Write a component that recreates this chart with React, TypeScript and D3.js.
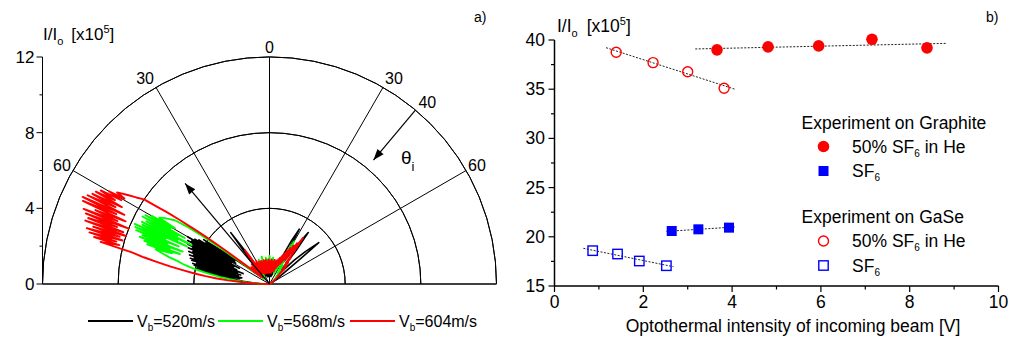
import React from "react";
import * as d3 from "d3";

const FONT = "'Liberation Sans', Arial, Helvetica, sans-serif";

// ---------- Panel a) polar data: [angle from normal (deg), I/Io x10^5] ----------
const black520: [number, number][] = [
  [-90, 0], [-88, 0.4], [-86, 0.9], [-84, 1.4], [-82, 2.0], [-81, 2.6], [-80, 3.2], [-79.5, 1.6],
  [-79, 3.7], [-78.5, 1.9], [-78, 4.0], [-77.5, 1.5], [-77, 3.9], [-76.5, 2.0], [-76, 4.1],
  [-75.5, 1.7], [-75, 4.2], [-74.5, 1.9], [-74, 4.0], [-73.5, 2.4], [-73, 4.3], [-72.5, 1.6],
  [-72, 4.4], [-71.5, 2.6], [-71, 4.2], [-70.5, 1.8], [-70, 4.5], [-69.5, 2.3], [-69, 4.3],
  [-68.5, 1.5], [-68, 4.6], [-67.5, 2.7], [-67, 4.4], [-66.5, 1.9], [-66, 4.7], [-65.5, 2.8],
  [-65, 4.5], [-64.5, 2.1], [-64, 4.8], [-63.5, 2.5], [-63, 4.6], [-62.5, 1.8], [-62, 4.9],
  [-61.5, 2.9], [-61, 4.7], [-60.5, 2.3], [-60, 5.0], [-59.5, 2.7], [-59, 4.6], [-58.5, 2.1],
  [-58, 4.4], [-57.5, 2.8], [-57, 4.0], [-56.5, 2.2], [-56, 4.2], [-55, 3.0], [-54, 2.0],
  [-53, 1.4], [-52, 0.9], [-50, 0.6], [-48, 0.8], [-46, 0.5], [-44, 1.0], [-42, 0.6], [-40, 1.2],
  [-38, 2.2], [-37, 3.4], [-36, 2.0], [-35, 1.0], [-33, 0.7], [-31, 1.1], [-29, 0.5], [-27, 0.9],
  [-25, 0.6], [-23, 0.8], [-21, 0.5], [-19, 0.7], [-17, 0.4], [-15, 0.6], [-13, 0.4], [-11, 0.7],
  [-9, 0.5], [-7, 0.6], [-5, 0.4], [-3, 0.7], [-1, 0.5], [1, 0.6], [3, 0.4], [5, 0.7], [7, 0.5],
  [9, 0.6], [11, 0.4], [13, 0.8], [15, 0.5], [17, 0.9], [19, 0.6], [21, 1.0], [23, 0.8],
  [25, 1.6], [27, 2.6], [28.5, 3.3], [29.5, 2.0], [31, 1.2], [33, 1.5], [35, 2.4], [37, 3.4],
  [38.5, 2.2], [40, 1.0], [42, 1.3], [44, 0.8], [46, 1.8], [48, 2.6], [50, 3.4], [51, 2.0],
  [53, 0.8], [56, 0.4], [60, 0.2], [70, 0.1], [90, 0],
];

const green568: [number, number][] = [
  [-90, 0], [-88, 0.5], [-86, 1.2], [-84, 1.8], [-82, 2.6], [-80, 3.4], [-79, 3.9], [-78, 4.3],
  [-77, 4.7], [-76, 5.0], [-75, 5.5], [-74, 5.9], [-73, 6.3], [-72.5, 5.4], [-72, 6.8],
  [-71.5, 5.0], [-71, 7.0], [-70.5, 5.6], [-70, 7.3], [-69.5, 4.9], [-69, 7.2], [-68.5, 5.8],
  [-68, 7.6], [-67.5, 5.2], [-67, 7.7], [-66.5, 6.0], [-66, 7.8], [-65.5, 4.8], [-65, 7.4],
  [-64.5, 5.4], [-64, 7.5], [-63.5, 4.6], [-63, 7.3], [-62.5, 5.5], [-62, 7.6], [-61.5, 5.1],
  [-61, 7.5], [-60.5, 6.0], [-60, 7.2], [-59.5, 5.8], [-59, 6.8], [-58, 6.6], [-57, 6.3],
  [-56, 6.0], [-55, 5.2], [-54.5, 4.5], [-54, 3.6], [-53.5, 2.8], [-53, 2.0], [-52, 1.2],
  [-50, 0.7], [-48, 0.4], [-46, 0.8], [-44, 0.5], [-42, 0.9], [-40, 0.4], [-38, 0.7], [-36, 1.0],
  [-34, 0.5], [-32, 0.8], [-30, 0.6], [-28, 1.0], [-26, 0.7], [-24, 1.4], [-22, 0.8], [-20, 1.2],
  [-18, 0.7], [-16, 1.5], [-14, 0.9], [-12, 1.2], [-10, 0.8], [-8, 1.4], [-6, 1.0], [-4, 1.3],
  [-2, 0.9], [0, 1.5], [2, 1.0], [4, 1.3], [6, 0.8], [8, 1.4], [10, 1.0], [12, 1.3], [14, 0.7],
  [16, 1.2], [18, 0.8], [20, 1.0], [22, 0.6], [24, 1.3], [26, 0.8], [28, 1.6], [30, 2.6],
  [31, 1.8], [33, 1.0], [35, 1.2], [37, 0.7], [40, 0.9], [43, 0.5], [46, 0.6], [50, 0.3],
  [55, 0.2], [60, 0.1], [75, 0], [90, 0],
];

const red604: [number, number][] = [
  [-90, 0], [-88, 0.6], [-87, 1.2], [-86, 1.5], [-85, 2.2], [-84, 2.8], [-83, 3.4], [-82, 4.0],
  [-81, 4.6], [-80, 5.3], [-79, 6.0], [-78, 6.8], [-77, 7.5], [-76.5, 8.3], [-76, 9.2],
  [-75.5, 8.2], [-75, 9.6], [-74.5, 8.4], [-74, 9.9], [-73.5, 8.1], [-73, 10.1], [-72.5, 8.3],
  [-72, 9.8], [-71.5, 8.0], [-71, 10.3], [-70.5, 8.2], [-70, 10.2], [-69.5, 8.6], [-69, 10.4],
  [-68.5, 8.0], [-68, 10.6], [-67.5, 8.7], [-67, 10.0], [-66.5, 8.3], [-66, 10.8], [-65.5, 8.9],
  [-65, 10.9], [-64.5, 8.5], [-64, 10.7], [-63.5, 9.1], [-63, 10.5], [-62.5, 8.8], [-62, 10.4],
  [-61.5, 9.3], [-61, 10.2], [-60.5, 9.0], [-60, 9.8], [-59.5, 8.9], [-59, 9.4], [-58, 8.9],
  [-57, 8.4], [-56, 8.0], [-55.5, 7.2], [-55, 6.6], [-54.5, 5.8], [-54, 5.0], [-53.5, 4.3],
  [-53, 3.4], [-52.5, 2.6], [-52, 1.9], [-51, 1.3], [-50, 0.6], [-49, 1.1], [-48, 0.7],
  [-47, 1.3], [-46, 0.5], [-45, 1.0], [-44, 1.2], [-43, 0.6], [-42, 1.4], [-41, 0.8], [-40, 1.3],
  [-39, 0.7], [-38, 1.1], [-37, 1.6], [-36, 2.2], [-35, 1.0], [-34, 1.3], [-33, 0.7], [-32, 1.2],
  [-31, 0.9], [-30, 1.4], [-29, 0.8], [-28, 1.2], [-27, 0.6], [-26, 1.1], [-25, 1.3], [-24, 0.8],
  [-23, 1.2], [-22, 0.7], [-21, 1.0], [-20, 1.3], [-19, 0.6], [-18, 1.1], [-17, 1.2], [-16, 0.7],
  [-15, 1.0], [-14, 1.3], [-13, 0.8], [-12, 1.1], [-11, 0.6], [-10, 1.2], [-9, 1.3], [-8, 0.7],
  [-7, 1.0], [-6, 1.2], [-5, 0.6], [-4, 1.1], [-3, 0.8], [-2, 1.3], [-1, 0.7], [0, 1.0],
  [1, 1.2], [2, 0.6], [3, 1.1], [4, 0.9], [5, 1.3], [6, 0.7], [7, 1.0], [8, 1.2], [9, 0.6],
  [10, 1.1], [11, 0.8], [12, 1.3], [13, 0.7], [14, 1.0], [15, 1.2], [16, 0.8], [17, 1.3],
  [18, 0.7], [19, 1.1], [20, 1.4], [21, 0.9], [22, 1.5], [23, 1.0], [24, 1.6], [25, 1.1],
  [26, 1.8], [27, 1.2], [28, 2.0], [29, 1.3], [30, 2.2], [31, 1.5], [32, 2.4], [33, 1.6],
  [34, 2.6], [35, 2.0], [36, 3.0], [37, 2.2], [38, 1.4], [39, 1.8], [40, 1.2], [41, 1.5],
  [42, 1.0], [43, 1.3], [44, 0.8], [45, 1.1], [46, 0.6], [48, 0.7], [50, 0.4], [52, 0.3],
  [55, 0.2], [60, 0.1], [70, 0.05], [80, 0], [90, 0],
];

const polarSeries = [
  { name: "520", data: black520, color: "#000000", width: 1.6 },
  { name: "568", data: green568, color: "#00ff00", width: 1.9 },
  { name: "604", data: red604, color: "#ff0000", width: 1.9 },
];

const polarCircles = [4, 8, 12];
const polarAxisTicks = [0, 4, 8, 12];
const polarMinorTicks = [2, 6, 10];
const spokeAngles = [-60, -30, 0, 30, 60];
const spokeLabels = ["60", "30", "0", "30", "60"];
const incidentAngle = 40;
const incidentLabel = "40";
const incidentTip = 8.55;
const reflectAngle = -40;
const reflectTip = 6.94;
const legendSpeeds = ["520m/s", "568m/s", "604m/s"];

// ---------- Panel b) data ----------
const graphiteMixX = [3.66, 4.81, 5.95, 7.15, 8.39];
const graphiteMixY = [39.0, 39.3, 39.4, 40.07, 39.2];
const graphiteSF6X = [2.64, 3.24, 3.93];
const graphiteSF6Y = [20.59, 20.76, 20.93];
const gaseMixX = [1.39, 2.22, 3.0, 3.82];
const gaseMixY = [38.75, 37.7, 36.78, 35.09];
const gaseSF6X = [0.86, 1.42, 1.91, 2.52];
const gaseSF6Y = [18.59, 18.25, 17.54, 17.06];
const fitGraphiteMix: [number, number][] = [[3.17, 39.09], [8.84, 39.66]];
const fitGraphiteSF6: [number, number][] = [[2.52, 20.55], [4.07, 21.0]];
const fitGaseMix: [number, number][] = [[1.16, 39.22], [4.07, 34.99]];
const fitGaseSF6: [number, number][] = [[0.65, 18.83], [2.68, 16.96]];
const xTicks = [0, 2, 4, 6, 8, 10];
const xMinor = [1, 3, 5, 7, 9];
const yTicks = [15, 20, 25, 30, 35, 40];
const yMinor = [17.5, 22.5, 27.5, 32.5, 37.5];

const zip = (xs: number[], ys: number[]) => xs.map((x, i) => [x, ys[i]] as [number, number]);

function arrowHead(tip: [number, number], from: [number, number], len = 11, half = 4) {
  const dx = tip[0] - from[0];
  const dy = tip[1] - from[1];
  const L = Math.hypot(dx, dy);
  const ux = dx / L, uy = dy / L;
  const bx = tip[0] - ux * len, by = tip[1] - uy * len;
  return `${tip[0]},${tip[1]} ${bx - uy * half},${by + ux * half} ${bx + uy * half},${by - ux * half}`;
}

function PolarPanel() {
  const cx = 269.5, cy = 284;
  const R = 227;
  const r = d3.scaleLinear().domain([0, 12]).range([0, R]);
  const yAxis = d3.scaleLinear().domain([0, 12]).range([cy, cy - R]);
  const axisX = cx - R;
  const pt = (deg: number, v: number): [number, number] => {
    const a = (deg * Math.PI) / 180;
    return [cx + r(v) * Math.sin(a), cy - r(v) * Math.cos(a)];
  };
  const arc = d3.arc<any>();
  const line = d3
    .lineRadial<[number, number]>()
    .angle((d) => (d[0] * Math.PI) / 180)
    .radius((d) => r(d[1]));

  const incFrom = pt(incidentAngle, 12);
  const incTo = pt(incidentAngle, incidentTip);
  const refFrom = pt(reflectAngle, 0);
  const refTo = pt(reflectAngle, reflectTip);

  const legendX = [88, 218, 350];

  return (
    <g fontFamily={FONT}>
      {polarCircles.map((c) => (
        <path
          key={c}
          transform={`translate(${cx},${cy})`}
          d={arc({ innerRadius: r(c), outerRadius: r(c), startAngle: -Math.PI / 2, endAngle: Math.PI / 2 }) || ""}
          fill="none"
          stroke="#000"
          strokeWidth={1}
        />
      ))}
      {spokeAngles.map((a) => {
        const p = pt(a, 12);
        return <line key={a} x1={cx} y1={cy} x2={p[0]} y2={p[1]} stroke="#000" strokeWidth={1} />;
      })}
      <line x1={axisX} y1={cy} x2={cx + R} y2={cy} stroke="#000" strokeWidth={1.5} />
      <line x1={axisX} y1={cy} x2={axisX} y2={cy - R} stroke="#000" strokeWidth={1} />
      {polarAxisTicks.map((t) => (
        <g key={t}>
          <line x1={axisX - 6} x2={axisX} y1={yAxis(t)} y2={yAxis(t)} stroke="#000" />
          <text x={axisX - 8} y={yAxis(t) + 6} fontSize={17} textAnchor="end">
            {t}
          </text>
        </g>
      ))}
      {polarMinorTicks.map((t) => (
        <line key={t} x1={axisX - 3} x2={axisX} y1={yAxis(t)} y2={yAxis(t)} stroke="#000" />
      ))}
      <text x={43} y={40} fontSize={17}>
        I/I<tspan dy={5} fontSize={11}>o</tspan>
        <tspan dy={-5} dx={8}>[x10</tspan>
        <tspan dy={-7} fontSize={11}>5</tspan>
        <tspan dy={7}>]</tspan>
      </text>
      <text x={474} y={22} fontSize={14}>a)</text>

      {polarSeries.map((s) => (
        <path
          key={s.name}
          transform={`translate(${cx},${cy})`}
          d={line(s.data) || ""}
          fill="none"
          stroke={s.color}
          strokeWidth={s.width}
          strokeLinejoin="round"
        />
      ))}

      {spokeAngles.map((a, i) => {
        const p = pt(a, 12);
        const anchor = a < 0 ? "end" : a > 0 ? "start" : "middle";
        const dx = a < 0 ? -2 : a > 0 ? 2 : 0;
        const dy = a === 0 ? -4 : a === 30 || a === -30 ? -3 : 0;
        return (
          <text key={a} x={p[0] + dx} y={p[1] + dy} fontSize={16} textAnchor={anchor}>
            {spokeLabels[i]}
          </text>
        );
      })}
      <line x1={incFrom[0]} y1={incFrom[1]} x2={incTo[0]} y2={incTo[1]} stroke="#000" strokeWidth={1.2} />
      <polygon points={arrowHead(incTo, incFrom)} fill="#000" />
      <text x={incFrom[0] + 3} y={incFrom[1] - 2} fontSize={16}>{incidentLabel}</text>
      <text x={401} y={164} fontSize={19}>
        θ<tspan dy={7} fontSize={13}>i</tspan>
      </text>
      <line x1={refFrom[0]} y1={refFrom[1]} x2={refTo[0]} y2={refTo[1]} stroke="#000" strokeWidth={1.2} />
      <polygon points={arrowHead(refTo, refFrom)} fill="#000" />

      {polarSeries.map((s, i) => (
        <g key={"lg" + s.name}>
          <line x1={legendX[i]} x2={legendX[i] + 45} y1={321} y2={321} stroke={s.color} strokeWidth={2} />
          <text x={legendX[i] + 49} y={327} fontSize={16}>
            V<tspan dy={4} fontSize={10}>b</tspan>
            <tspan dy={-4}>={legendSpeeds[i]}</tspan>
          </text>
        </g>
      ))}
    </g>
  );
}

function ScatterPanel() {
  const x = d3.scaleLinear().domain([0, 10]).range([554.5, 998.5]);
  const y = d3.scaleLinear().domain([15, 40]).range([286, 40]);
  const line = d3
    .line<[number, number]>()
    .x((d) => x(d[0]))
    .y((d) => y(d[1]));
  const fits = [fitGraphiteMix, fitGraphiteSF6, fitGaseMix, fitGaseSF6];
  const sq = 10;
  const lx = 823.5;
  const tx = 852;

  return (
    <g fontFamily={FONT}>
      <line x1={x(0)} x2={x(10)} y1={y(15)} y2={y(15)} stroke="#000" strokeWidth={1.5} />
      <line x1={x(0)} x2={x(0)} y1={y(15)} y2={y(40)} stroke="#000" strokeWidth={1.5} />
      {xTicks.map((t) => (
        <g key={t}>
          <line x1={x(t)} x2={x(t)} y1={y(15)} y2={y(15) + 6} stroke="#000" strokeWidth={1.2} />
          <text x={x(t)} y={308} fontSize={17.5} textAnchor="middle">{t}</text>
        </g>
      ))}
      {xMinor.map((t) => (
        <line key={t} x1={x(t)} x2={x(t)} y1={y(15)} y2={y(15) + 3.5} stroke="#000" strokeWidth={1.2} />
      ))}
      {yTicks.map((t) => (
        <g key={t}>
          <line x1={x(0) - 6} x2={x(0)} y1={y(t)} y2={y(t)} stroke="#000" strokeWidth={1.2} />
          <text x={545} y={y(t) + 6} fontSize={17.5} textAnchor="end">{t}</text>
        </g>
      ))}
      {yMinor.map((t) => (
        <line key={t} x1={x(0) - 3.5} x2={x(0)} y1={y(t)} y2={y(t)} stroke="#000" strokeWidth={1.2} />
      ))}
      <text x={793} y={332} fontSize={17.5} textAnchor="middle">
        Optothermal intensity of incoming beam [V]
      </text>
      <text x={557} y={32} fontSize={17.5}>
        I/I<tspan dy={5} fontSize={11}>o</tspan>
        <tspan dy={-5} dx={9}>[x10</tspan>
        <tspan dy={-7} fontSize={11}>5</tspan>
        <tspan dy={7}>]</tspan>
      </text>
      <text x={986} y={22} fontSize={14}>b)</text>

      {fits.map((f, i) => (
        <path key={i} d={line(f) || ""} stroke="#222" strokeWidth={1} strokeDasharray="2,1.5" fill="none" />
      ))}

      {zip(graphiteMixX, graphiteMixY).map((d, i) => (
        <circle key={"gm" + i} cx={x(d[0])} cy={y(d[1])} r={5.8} fill="#ff0000" />
      ))}
      {zip(graphiteSF6X, graphiteSF6Y).map((d, i) => (
        <rect key={"gs" + i} x={x(d[0]) - sq / 2} y={y(d[1]) - sq / 2} width={sq} height={sq} fill="#0000ff" />
      ))}
      {zip(gaseMixX, gaseMixY).map((d, i) => (
        <circle key={"em" + i} cx={x(d[0])} cy={y(d[1])} r={5} fill="none" stroke="#ff0000" strokeWidth={1.4} />
      ))}
      {zip(gaseSF6X, gaseSF6Y).map((d, i) => (
        <rect key={"es" + i} x={x(d[0]) - 4.7} y={y(d[1]) - 4.7} width={9.4} height={9.4} fill="none" stroke="#0000ff" strokeWidth={1.4} />
      ))}

      <text x={801.5} y={128.5} fontSize={17.5}>Experiment on Graphite</text>
      <circle cx={lx} cy={146.5} r={5.8} fill="#ff0000" />
      <text x={tx} y={152.5} fontSize={17.5}>
        50% SF<tspan dy={4} fontSize={10}>6</tspan>
        <tspan dy={-4}> in He</tspan>
      </text>
      <rect x={lx - 5} y={171 - 5} width={10} height={10} fill="#0000ff" />
      <text x={tx} y={176.5} fontSize={17.5}>
        SF<tspan dy={4} fontSize={10}>6</tspan>
      </text>
      <text x={801.5} y={223} fontSize={17.5}>Experiment on GaSe</text>
      <circle cx={lx} cy={241} r={5} fill="none" stroke="#ff0000" strokeWidth={1.4} />
      <text x={tx} y={247} fontSize={17.5}>
        50% SF<tspan dy={4} fontSize={10}>6</tspan>
        <tspan dy={-4}> in He</tspan>
      </text>
      <rect x={lx - 4.7} y={265.5 - 4.7} width={9.4} height={9.4} fill="none" stroke="#0000ff" strokeWidth={1.4} />
      <text x={tx} y={271.5} fontSize={17.5}>
        SF<tspan dy={4} fontSize={10}>6</tspan>
      </text>
    </g>
  );
}

export default function App() {
  return (
    <svg
      width={1011}
      height={339}
      viewBox="0 0 1011 339"
      style={{ position: "absolute", left: 0, top: 0, background: "#fff" }}
    >
      <rect width={1011} height={339} fill="#fff" />
      <PolarPanel />
      <ScatterPanel />
    </svg>
  );
}
